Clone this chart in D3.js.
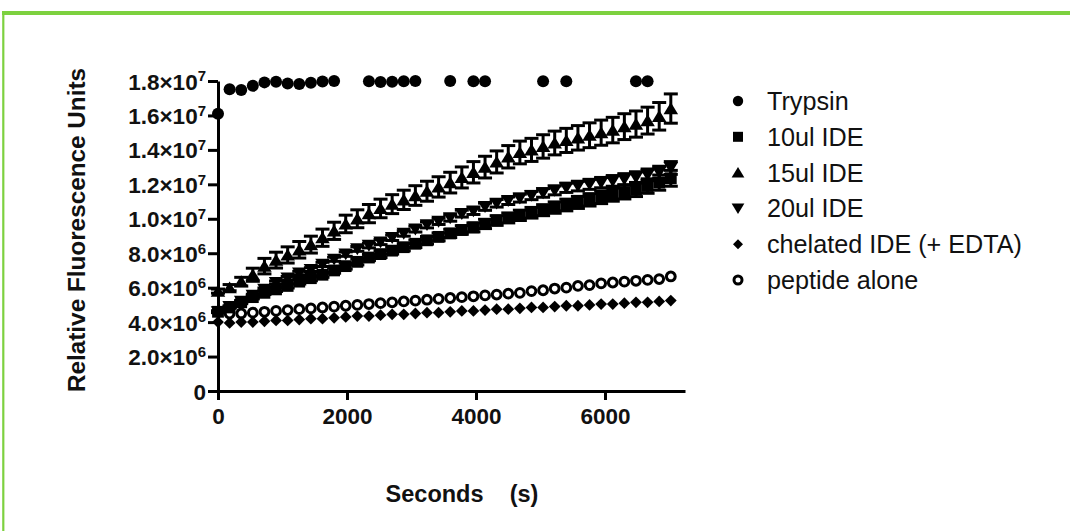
<!DOCTYPE html>
<html><head><meta charset="utf-8">
<script src="https://cdn.jsdelivr.net/npm/d3@7"></script>
<style>body{margin:0;background:#fff;} svg{display:block;font-family:"Liberation Sans",Arial,sans-serif;}</style>
</head><body><svg id="c" width="1070" height="531"></svg>
<script>
// ---- data (values in units of 10^6 RFU) ----
const times = [0,180,360,540,720,900,1080,1260,1440,1620,1800,1980,2160,2340,2520,2700,2880,3060,3240,3420,3600,3780,3960,4140,4320,4500,4680,4860,5040,5220,5400,5580,5760,5940,6120,6300,6480,6660,6840,7020];
const seriesNames = ["Trypsin","10ul IDE","15ul IDE","20ul IDE","chelated IDE (+ EDTA)","peptide alone"];
const trypsin = [16.1,17.52,17.48,17.72,17.92,17.95,17.86,17.83,17.9,17.97,18.0,null,null,17.98,17.94,17.96,17.98,18.0,null,null,18.0,null,17.98,17.98,null,null,null,null,17.98,null,17.98,null,null,null,null,null,17.99,17.99,null,null];
const ide10 = [4.6,4.85,5.15,5.45,5.7,5.9,6.1,6.35,6.55,6.75,7.0,7.25,7.5,7.75,7.95,8.15,8.35,8.55,8.75,8.95,9.15,9.35,9.5,9.7,9.9,10.05,10.2,10.35,10.5,10.65,10.8,10.95,11.1,11.25,11.4,11.55,11.7,11.9,12.1,12.35];
const ide10Err = [0.05,0.05,0.08,0.1,0.1,0.12,0.12,0.14,0.15,0.15,0.16,0.17,0.18,0.18,0.2,0.2,0.21,0.22,0.22,0.23,0.24,0.25,0.26,0.27,0.28,0.29,0.3,0.31,0.32,0.33,0.34,0.35,0.36,0.37,0.38,0.4,0.41,0.42,0.44,0.46];
const ide15 = [5.8,6.0,6.35,6.75,7.25,7.6,7.9,8.2,8.5,8.9,9.3,9.7,10.0,10.3,10.6,10.85,11.1,11.35,11.6,11.85,12.1,12.4,12.7,13.0,13.3,13.6,13.85,14.0,14.2,14.4,14.55,14.7,14.85,15.0,15.15,15.35,15.5,15.7,15.95,16.4];
const ide15Err = [0.12,0.18,0.25,0.38,0.45,0.46,0.47,0.48,0.49,0.5,0.5,0.51,0.52,0.53,0.54,0.55,0.56,0.57,0.58,0.59,0.6,0.61,0.62,0.63,0.64,0.65,0.66,0.67,0.68,0.69,0.7,0.71,0.72,0.73,0.74,0.75,0.76,0.78,0.8,0.85];
const ide20 = [4.6,4.9,5.2,5.55,5.9,6.3,6.55,6.85,7.05,7.35,7.65,7.95,8.25,8.45,8.65,8.9,9.15,9.4,9.65,9.85,10.05,10.3,10.45,10.7,10.9,11.05,11.2,11.35,11.5,11.65,11.8,11.9,12.0,12.1,12.2,12.3,12.4,12.55,12.7,12.95];
const ide20Err = [0.04,0.05,0.06,0.07,0.08,0.09,0.1,0.1,0.11,0.12,0.12,0.13,0.14,0.14,0.15,0.16,0.16,0.17,0.18,0.18,0.19,0.2,0.2,0.21,0.22,0.22,0.23,0.24,0.25,0.26,0.27,0.28,0.29,0.3,0.31,0.32,0.33,0.34,0.35,0.37];
const chelated = [4.0,3.95,4.0,4.0,4.05,4.1,4.1,4.15,4.2,4.2,4.25,4.3,4.35,4.35,4.4,4.45,4.45,4.5,4.55,4.55,4.6,4.65,4.65,4.7,4.75,4.75,4.8,4.85,4.85,4.9,4.95,4.95,5.0,5.05,5.05,5.1,5.15,5.15,5.2,5.25];
const peptide = [4.6,4.5,4.5,4.55,4.6,4.65,4.7,4.75,4.8,4.85,4.9,4.95,5.0,5.05,5.1,5.15,5.2,5.25,5.3,5.35,5.4,5.45,5.5,5.55,5.6,5.65,5.7,5.8,5.85,5.95,6.0,6.1,6.15,6.25,6.3,6.35,6.4,6.45,6.5,6.65];
const yTickValues = [0,2,4,6,8,10,12,14,16,18];
const yTickMantissa = ["0","2.0","4.0","6.0","8.0","1.0","1.2","1.4","1.6","1.8"];
const yTickExponent = ["","6","6","6","6","7","7","7","7","7"];
const xTickValues = [0,2000,4000,6000];
const xTitle = "Seconds    (s)";
const yTitle = "Relative Fluorescence Units";

// ---- layout ----
const svg = d3.select("#c");
const x = d3.scaleLinear().domain([0,7240]).range([218,685]);
const y = d3.scaleLinear().domain([0,18]).range([391,81]);

// green frame
svg.append("line").attr("x1",2).attr("x2",1070).attr("y1",13).attr("y2",13).attr("stroke","#7dd13f").attr("stroke-width",4);
svg.append("line").attr("x1",3.3).attr("x2",3.3).attr("y1",11).attr("y2",531).attr("stroke","#7dd13f").attr("stroke-width",2.2);

// symbol shapes
const shapes = {
  circle: r => `M${-r},0A${r},${r} 0 1,0 ${r},0A${r},${r} 0 1,0 ${-r},0Z`,
  square: s => `M${-s},${-s}H${s}V${s}H${-s}Z`,
  triUp: s => `M0,${-s*0.95}L${s*1.1},${s*0.85}L${-s*1.1},${s*0.85}Z`,
  triDown: s => `M0,${s*0.95}L${s*1.1},${-s*0.85}L${-s*1.1},${-s*0.85}Z`,
  diamond: s => `M0,${-s}L${s},0L0,${s}L${-s},0Z`
};
const series = [
  {name:seriesNames[5], vals:peptide, err:null, shape:"circle", size:4.4, open:true},
  {name:seriesNames[4], vals:chelated, err:null, shape:"diamond", size:5.9},
  {name:seriesNames[1], vals:ide10, err:ide10Err, shape:"square", size:5.9},
  {name:seriesNames[3], vals:ide20, err:ide20Err, shape:"triDown", size:6.6},
  {name:seriesNames[2], vals:ide15, err:ide15Err, shape:"triUp", size:6.6},
  {name:seriesNames[0], vals:trypsin, err:null, shape:"circle", size:6}
];

// axes
const yAxis = d3.axisLeft(y).tickValues(yTickValues).tickSize(10).tickSizeOuter(0).tickPadding(4).tickFormat(()=> "");
const gy = svg.append("g").attr("transform","translate(218,0)").call(yAxis);
const xAxis = d3.axisBottom(x).tickValues(xTickValues).tickSize(9).tickSizeOuter(0).tickPadding(8).tickFormat(d3.format("d"));
const gx = svg.append("g").attr("transform","translate(0,391)").call(xAxis);
[gx,gy].forEach(g=>{
  g.selectAll("path.domain").attr("stroke","#000").attr("stroke-width",3);
  g.selectAll(".tick line").attr("stroke","#000").attr("stroke-width",3);
});
gx.selectAll(".tick text").attr("font-size",22.5).attr("font-weight","bold").attr("fill","#111").attr("font-family","Liberation Sans, Arial, sans-serif");
gy.selectAll(".tick text").each(function(d,i){
  const t = d3.select(this).attr("font-size",22.5).attr("font-weight","bold").attr("fill","#111")
    .attr("font-family","Liberation Sans, Arial, sans-serif").attr("dy","0.36em").attr("x",-12);
  const idx = yTickValues.indexOf(d);
  t.text(null);
  if (yTickExponent[idx] === "") { t.append("tspan").text(yTickMantissa[idx]); }
  else {
    t.append("tspan").text(yTickMantissa[idx] + "\u00d710");
    t.append("tspan").attr("font-size",15).attr("dy","-0.55em").text(yTickExponent[idx]);
  }
});

// data
const plot = svg.append("g");
series.forEach(s=>{
  const g = plot.append("g");
  if (s.err) {
    times.forEach((t,i)=>{
      const v = s.vals[i], e = s.err[i];
      if (v==null) return;
      const y1 = y(v+e), y2 = y(v-e), cx = x(t);
      g.append("line").attr("x1",cx).attr("x2",cx).attr("y1",y1).attr("y2",y2).attr("stroke","#000").attr("stroke-width",3);
      g.append("line").attr("x1",cx-7).attr("x2",cx+7).attr("y1",y1).attr("y2",y1).attr("stroke","#000").attr("stroke-width",3);
      g.append("line").attr("x1",cx-7).attr("x2",cx+7).attr("y1",y2).attr("y2",y2).attr("stroke","#000").attr("stroke-width",3);
    });
  }
  times.forEach((t,i)=>{
    const v = s.vals[i];
    if (v==null) return;
    g.append("path").attr("transform",`translate(${x(t)},${y(v)})`)
      .attr("d", shapes[s.shape](s.size))
      .attr("fill", s.open ? "#fff" : "#000")
      .attr("stroke", s.open ? "#000" : "none")
      .attr("stroke-width", s.open ? 3 : 0);
  });
});

// legend
const legendOrder = [
  {name:seriesNames[0], shape:"circle", size:5.2, open:false},
  {name:seriesNames[1], shape:"square", size:5, open:false},
  {name:seriesNames[2], shape:"triUp", size:5.8, open:false},
  {name:seriesNames[3], shape:"triDown", size:5.8, open:false},
  {name:seriesNames[4], shape:"diamond", size:5, open:false},
  {name:seriesNames[5], shape:"circle", size:4, open:true}
];
const lg = svg.append("g");
legendOrder.forEach((l,i)=>{
  const cy = 101 + i*35.8;
  lg.append("path").attr("transform",`translate(738,${cy})`).attr("d",shapes[l.shape](l.size))
    .attr("fill", l.open?"#fff":"#000").attr("stroke", l.open?"#000":"none").attr("stroke-width", l.open?3:0);
  lg.append("text").attr("x",767).attr("y",cy).attr("dy","0.36em").attr("font-size",25.2).attr("fill","#111").text(l.name);
});

// titles
svg.append("text").attr("x",462).attr("y",502).attr("text-anchor","middle").attr("font-size",23.5)
  .attr("font-weight","bold").attr("fill","#111").style("white-space","pre").text(xTitle);
svg.append("text").attr("transform","translate(85,230) rotate(-90)").attr("text-anchor","middle")
  .attr("font-size",24.3).attr("font-weight","bold").attr("fill","#111").text(yTitle);
</script></body></html>
